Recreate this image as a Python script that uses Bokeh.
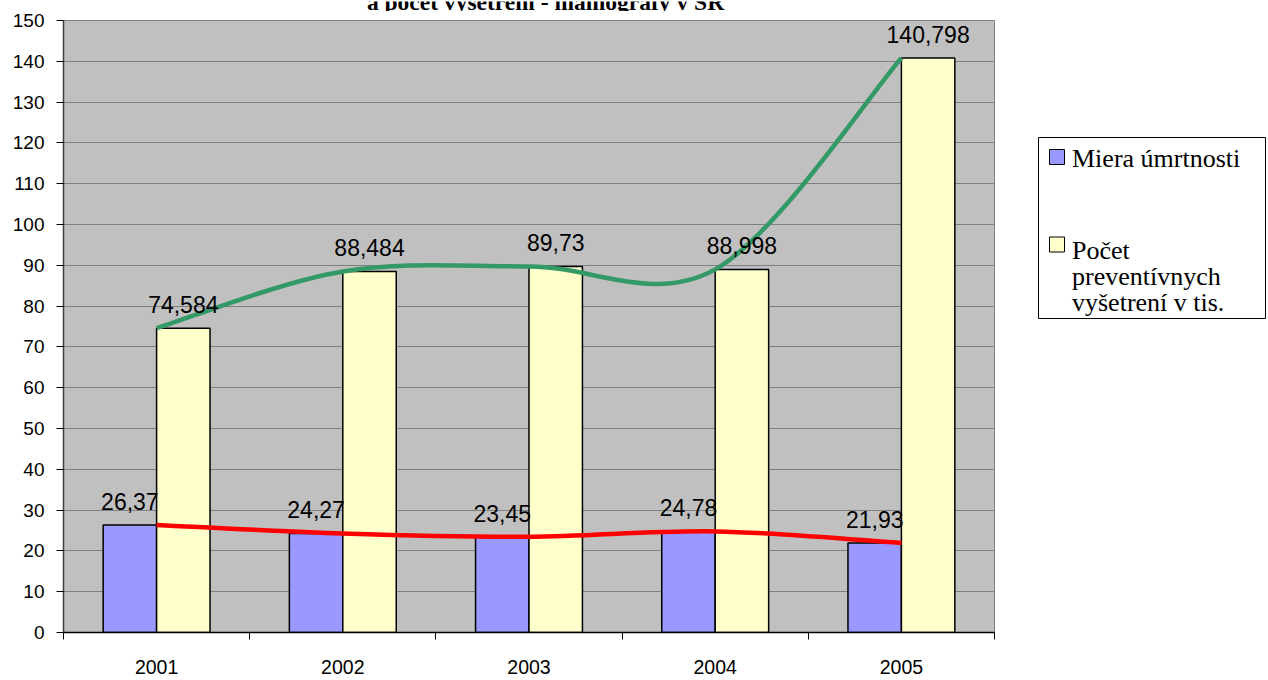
from bokeh.plotting import figure
from bokeh.layouts import row, column
from bokeh.models import FixedTicker, Range1d, ColumnDataSource
from bokeh.embed import file_html
from bokeh.resources import INLINE
from bokeh.core.properties import value

# ---- data ----
years = ["2001", "2002", "2003", "2004", "2005"]
mortality = [26.37, 24.27, 23.45, 24.78, 21.93]
exams = [74.584, 88.484, 89.73, 88.998, 140.798]
mortality_labels = ["26,37", "24,27", "23,45", "24,78", "21,93"]
exams_labels = ["74,584", "88,484", "89,73", "88,998", "140,798"]
title_text = "a počet vyšetrení - mamografy v SR"
series_names = ["Miera úmrtnosti", "Počet\npreventívnych\nvyšetrení v tis."]

BLUE = "#9999FF"
YELLOW = "#FFFFCC"
RED = "#FF0000"
GREEN = "#339966"

n = len(years)
centers = [i + 0.5 for i in range(n)]
bw = 0.287
BIAS = 8.5          # rendered alphabetic baseline sits this much lower

TOP_H = 11          # strip holding the (cut-off) title
MAIN_H = 680 - TOP_H
FRAME_TOP = 20      # page y of the plot frame top
FRAME_BOT = 632     # page y of the plot frame bottom

# ---- title strip: only the lower part of the title is visible ----
tf = figure(width=1268, height=TOP_H, output_backend="svg",
            toolbar_location=None, x_axis_type=None, y_axis_type=None,
            x_range=Range1d(0, 1268), y_range=Range1d(0, TOP_H),
            min_border=0, outline_line_color=None)
tf.grid.visible = False
tf.background_fill_color = "white"
tf.border_fill_color = "white"
tf.text(x=[545], y=[TOP_H - (9 - BIAS)], text=[title_text],
        text_align="center", text_baseline="alphabetic",
        text_font=value("Liberation Serif"), text_font_style="bold",
        text_font_size="23.5px", text_color="black")

# ---- main chart ----
p = figure(width=995, height=MAIN_H, output_backend="svg",
           toolbar_location=None,
           x_range=Range1d(0, n), y_range=Range1d(0, 150),
           min_border_left=63, min_border_right=1,
           min_border_top=FRAME_TOP - TOP_H, min_border_bottom=680 - FRAME_BOT)
p.background_fill_color = "#C0C0C0"
p.border_fill_color = "white"
p.outline_line_color = "#808080"
p.outline_line_width = 1

# grid
p.xgrid.visible = False
p.ygrid.ticker = FixedTicker(ticks=list(range(0, 151, 10)))
p.ygrid.grid_line_color = "#808080"
p.ygrid.grid_line_width = 1

# y axis
p.yaxis.ticker = FixedTicker(ticks=list(range(0, 151, 10)))
p.yaxis.major_label_text_font = "Liberation Sans"
p.yaxis.major_label_text_font_size = "19px"
p.yaxis.major_label_text_color = "black"
p.yaxis.axis_line_color = "#404040"
p.yaxis.axis_line_width = 1.5
p.yaxis.major_tick_line_color = "black"
p.yaxis.major_tick_out = 7
p.yaxis.major_tick_in = 0
p.yaxis.minor_tick_line_color = None
p.yaxis.major_label_standoff = 12

# x axis
p.xaxis.ticker = FixedTicker(ticks=centers, minor_ticks=list(range(0, n + 1)))
p.xaxis.major_label_overrides = {c: y for c, y in zip(centers, years)}
p.xaxis.major_label_text_font = "Liberation Sans"
p.xaxis.major_label_text_font_size = "19.5px"
p.xaxis.major_label_text_color = "black"
p.xaxis.axis_line_color = "black"
p.xaxis.axis_line_width = 1.5
p.xaxis.major_tick_out = 0
p.xaxis.major_tick_in = 0
p.xaxis.minor_tick_out = 7
p.xaxis.minor_tick_in = 0
p.xaxis.minor_tick_line_color = "black"
p.xaxis.major_label_standoff = 20

# bars
src = ColumnDataSource(dict(
    xb=[c - bw / 2 for c in centers],
    xy=[c + bw / 2 for c in centers],
    m=mortality, e=exams, ml=mortality_labels, el=exams_labels))
p.vbar(x="xb", top="m", width=bw, bottom=0, source=src,
       fill_color=BLUE, line_color="black", line_width=1.5)
p.vbar(x="xy", top="e", width=bw, bottom=0, source=src,
       fill_color=YELLOW, line_color="black", line_width=1.5)


# smooth lines (Excel-style Catmull-Rom bezier through the data points)
def bez(xs, ys):
    x0, y0, x1, y1, cx0, cy0, cx1, cy1 = [], [], [], [], [], [], [], []
    m = len(xs)
    for i in range(m - 1):
        pxm, pym = (xs[i - 1], ys[i - 1]) if i > 0 else (xs[i], ys[i])
        pxp, pyp = (xs[i + 2], ys[i + 2]) if i + 2 < m else (xs[i + 1], ys[i + 1])
        x0.append(xs[i]); y0.append(ys[i])
        x1.append(xs[i + 1]); y1.append(ys[i + 1])
        cx0.append(xs[i] + (xs[i + 1] - pxm) / 6)
        cy0.append(ys[i] + (ys[i + 1] - pym) / 6)
        cx1.append(xs[i + 1] - (pxp - xs[i]) / 6)
        cy1.append(ys[i + 1] - (pyp - ys[i]) / 6)
    return dict(x0=x0, y0=y0, x1=x1, y1=y1, cx0=cx0, cy0=cy0, cx1=cx1, cy1=cy1)


p.bezier(source=ColumnDataSource(bez(centers, exams)), x0="x0", y0="y0",
         x1="x1", y1="y1", cx0="cx0", cy0="cy0", cx1="cx1", cy1="cy1",
         line_color=GREEN, line_width=4.5)
p.bezier(source=ColumnDataSource(bez(centers, mortality)), x0="x0", y0="y0",
         x1="x1", y1="y1", cx0="cx0", cy0="cy0", cx1="cx1", cy1="cy1",
         line_color=RED, line_width=4.5)

# data labels
for xcol, ycol, tcol in (("xb", "m", "ml"), ("xy", "e", "el")):
    p.text(x=xcol, y=ycol, text=tcol, source=src, text_align="center",
           text_baseline="alphabetic", y_offset=-15 - BIAS,
           text_font=value("Liberation Sans"), text_font_size="23px",
           text_color="black")

# ---- legend panel (separate figure; y values = 680 - page y) ----
LW = 273
lg = figure(width=LW, height=MAIN_H, output_backend="svg",
            toolbar_location=None, x_axis_type=None, y_axis_type=None,
            x_range=Range1d(0, LW),
            y_range=Range1d(680 - FRAME_BOT, 680 - FRAME_TOP),
            min_border_left=0, min_border_right=0,
            min_border_top=FRAME_TOP - TOP_H, min_border_bottom=680 - FRAME_BOT,
            outline_line_color=None)
lg.grid.visible = False
lg.background_fill_color = "white"
lg.border_fill_color = "white"

# legend frame
lg.quad(left=[43], right=[270], bottom=[680 - 318], top=[680 - 137],
        fill_color="white", line_color="black", line_width=1)
# swatches
sw_colors = [BLUE, YELLOW]
sw_top = [680 - 149, 680 - 236.5]
lg.quad(left=[54, 54], right=[69, 69], top=sw_top,
        bottom=[t - 15 for t in sw_top], fill_color=sw_colors,
        line_color="black", line_width=1)
# labels
line_h = 26
first_base = [680 - 166.7 + BIAS, 680 - 258.3 + BIAS]
for name, base in zip(series_names, first_base):
    for k, ln in enumerate(name.split("\n")):
        lg.text(x=[76.5], y=[base - k * line_h], text=[ln],
                text_align="left", text_baseline="alphabetic",
                text_font=value("Liberation Serif"), text_font_size="26px",
                text_color="black")

layout = column(tf, row(p, lg, spacing=0), spacing=0)
open("out.html", "w").write(file_html(layout, INLINE))
